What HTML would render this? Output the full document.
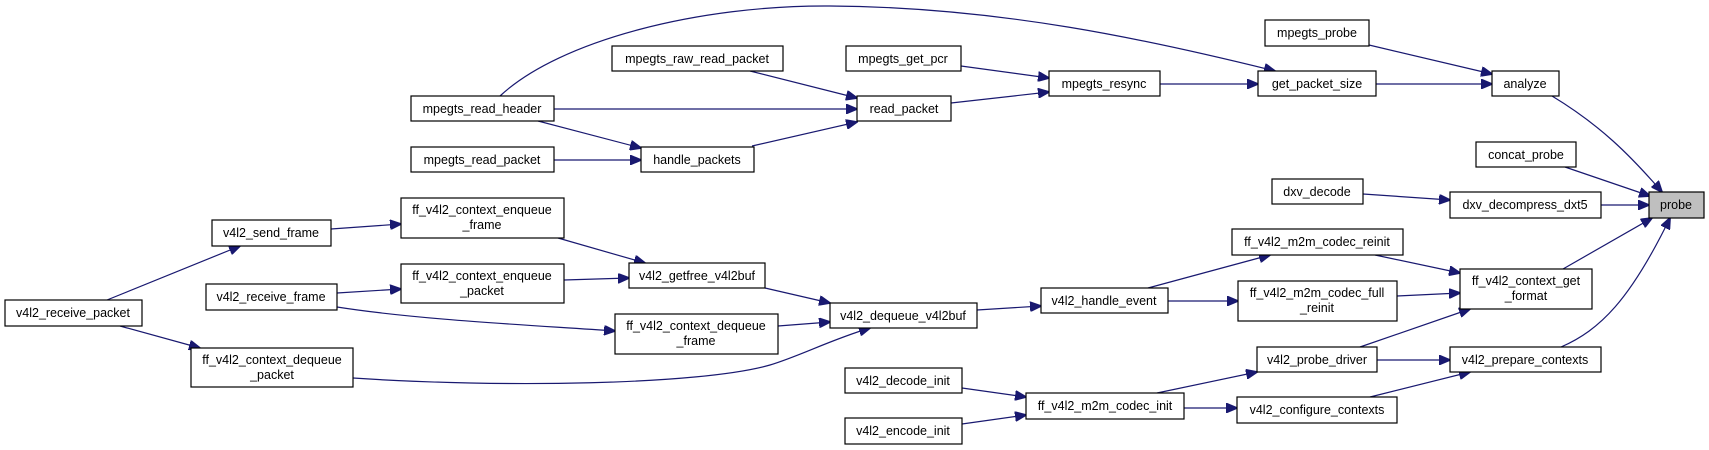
<!DOCTYPE html>
<html><head><meta charset="utf-8"><style>
html,body{margin:0;padding:0;background:#fff;}
svg{display:block;}
text{font-family:"Liberation Sans",Arial,sans-serif;font-size:12.5px;fill:#000;text-anchor:middle;}
rect{fill:#fff;stroke:#000;stroke-width:1.2;}
path{fill:none;stroke:#191970;stroke-width:1.2;}
</style></head><body>
<svg width="1709" height="450" viewBox="0 0 1709 450" xmlns="http://www.w3.org/2000/svg">
<defs><marker id="a" markerUnits="userSpaceOnUse" markerWidth="12" markerHeight="10" refX="11" refY="5" orient="auto"><polygon points="0,0 12,5 0,10" fill="#191970" stroke="#191970"/></marker></defs>
<g marker-end="url(#a)">
<path d="M500,96 C560,40 700,5 830,6 C1000,7 1150,40 1275,71"/>
<path d="M554,109 L857,109"/>
<path d="M538,121 L641,148"/>
<path d="M554,160 L641,160"/>
<path d="M750,71 L857,98"/>
<path d="M752,146 L857,122"/>
<path d="M951,103 L1049,92"/>
<path d="M961,66 L1049,78"/>
<path d="M1160,84 L1258,84"/>
<path d="M1369,45 L1492,74"/>
<path d="M1376,84 L1492,84"/>
<path d="M1552,96 C1600,125 1630,155 1662,192"/>
<path d="M1565,167 L1650,196"/>
<path d="M1363,194 L1450,200"/>
<path d="M1601,205 L1649,205"/>
<path d="M1563,269 L1652,218"/>
<path d="M1561,347 C1600,330 1630,300 1670,218"/>
<path d="M1375,255 L1460,273"/>
<path d="M1397,296 L1460,293"/>
<path d="M1360,347 L1470,309"/>
<path d="M1377,360 L1450,360"/>
<path d="M1370,397 L1470,372"/>
<path d="M1148,288 L1270,255"/>
<path d="M1168,301 L1238,301"/>
<path d="M1157,393 L1257,372"/>
<path d="M1184,408 L1237,408"/>
<path d="M962,388 L1026,397"/>
<path d="M962,424 L1026,415"/>
<path d="M977,310 L1041,306"/>
<path d="M765,288 L830,303"/>
<path d="M778,326 L830,322"/>
<path d="M353,378 C500,388 700,385 770,365 C800,356 830,340 870,328"/>
<path d="M558,238 L645,263"/>
<path d="M564,280 L629,278"/>
<path d="M337,307 C420,320 530,325 615,331"/>
<path d="M331,229 L401,224"/>
<path d="M337,293 L401,289"/>
<path d="M107,300 L240,246"/>
<path d="M120,326 L200,348"/>
</g>
<g>
<rect x="411" y="96" width="143" height="25"/><text x="482" y="113">mpegts_read_header</text>
<rect x="411" y="147" width="143" height="25"/><text x="482" y="164">mpegts_read_packet</text>
<rect x="401" y="198" width="163" height="40"/><text x="482" y="214">ff_v4l2_context_enqueue</text><text x="482" y="229">_frame</text>
<rect x="212" y="220" width="119" height="26"/><text x="271" y="237">v4l2_send_frame</text>
<rect x="401" y="264" width="163" height="39"/><text x="482" y="280">ff_v4l2_context_enqueue</text><text x="482" y="295">_packet</text>
<rect x="206" y="284" width="131" height="26"/><text x="271" y="301">v4l2_receive_frame</text>
<rect x="5" y="300" width="137" height="26"/><text x="73" y="317">v4l2_receive_packet</text>
<rect x="191" y="348" width="162" height="39"/><text x="272" y="364">ff_v4l2_context_dequeue</text><text x="272" y="379">_packet</text>
<rect x="612" y="46" width="171" height="25"/><text x="697" y="63">mpegts_raw_read_packet</text>
<rect x="846" y="46" width="115" height="25"/><text x="903" y="63">mpegts_get_pcr</text>
<rect x="1049" y="71" width="111" height="25"/><text x="1104" y="88">mpegts_resync</text>
<rect x="857" y="96" width="94" height="25"/><text x="904" y="113">read_packet</text>
<rect x="641" y="147" width="113" height="25"/><text x="697" y="164">handle_packets</text>
<rect x="629" y="263" width="136" height="25"/><text x="697" y="280">v4l2_getfree_v4l2buf</text>
<rect x="615" y="314" width="163" height="40"/><text x="696" y="330">ff_v4l2_context_dequeue</text><text x="696" y="345">_frame</text>
<rect x="830" y="303" width="147" height="25"/><text x="903" y="320">v4l2_dequeue_v4l2buf</text>
<rect x="1041" y="288" width="127" height="25"/><text x="1104" y="305">v4l2_handle_event</text>
<rect x="845" y="368" width="117" height="25"/><text x="903" y="385">v4l2_decode_init</text>
<rect x="845" y="418" width="117" height="26"/><text x="903" y="435">v4l2_encode_init</text>
<rect x="1026" y="393" width="158" height="26"/><text x="1105" y="410">ff_v4l2_m2m_codec_init</text>
<rect x="1265" y="20" width="104" height="26"/><text x="1317" y="37">mpegts_probe</text>
<rect x="1258" y="71" width="118" height="25"/><text x="1317" y="88">get_packet_size</text>
<rect x="1492" y="71" width="67" height="25"/><text x="1525" y="88">analyze</text>
<rect x="1476" y="142" width="100" height="25"/><text x="1526" y="159">concat_probe</text>
<rect x="1272" y="179" width="91" height="25"/><text x="1317" y="196">dxv_decode</text>
<rect x="1450" y="192" width="151" height="26"/><text x="1525" y="209">dxv_decompress_dxt5</text>
<rect x="1649" y="192" width="55" height="26" style="fill:#bfbfbf"/><text x="1676" y="209">probe</text>
<rect x="1232" y="229" width="171" height="26"/><text x="1317" y="246">ff_v4l2_m2m_codec_reinit</text>
<rect x="1238" y="281" width="159" height="40"/><text x="1317" y="297">ff_v4l2_m2m_codec_full</text><text x="1317" y="312">_reinit</text>
<rect x="1460" y="269" width="132" height="40"/><text x="1526" y="285">ff_v4l2_context_get</text><text x="1526" y="300">_format</text>
<rect x="1257" y="347" width="120" height="25"/><text x="1317" y="364">v4l2_probe_driver</text>
<rect x="1450" y="347" width="151" height="25"/><text x="1525" y="364">v4l2_prepare_contexts</text>
<rect x="1237" y="397" width="160" height="26"/><text x="1317" y="414">v4l2_configure_contexts</text>
</g>
</svg>
</body></html>
